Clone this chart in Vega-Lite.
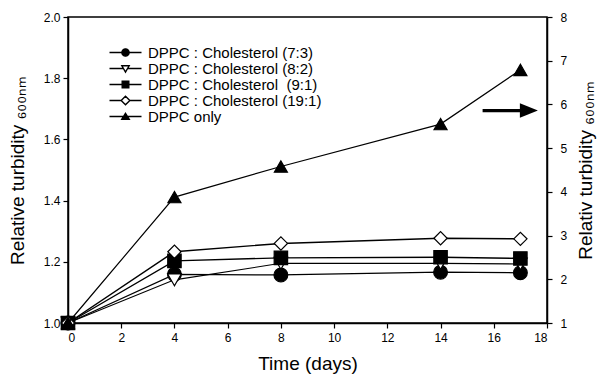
{
  "$schema": "https://vega.github.io/schema/vega-lite/v6.json",
  "width": 479,
  "height": 306,
  "autosize": {"type": "none"},
  "padding": {"left": 68, "top": 17, "right": 50, "bottom": 55},
  "background": "white",
  "config": {
    "font": "Liberation Sans",
    "view": {"stroke": "black", "strokeWidth": 1.5},
    "axis": {
      "domainColor": "black", "domainWidth": 1.5, "tickColor": "black", "tickWidth": 1.2, "tickSize": 5,
      "labelColor": "black", "labelFont": "Liberation Sans", "labelFontSize": 12,
      "titleFont": "Liberation Sans", "titleFontSize": 19, "titleFontWeight": "normal", "titleColor": "black",
      "grid": false
    },
    "legend": {
      "orient": "none", "legendX": 50, "legendY": 28, "padding": 0,
      "labelFont": "Liberation Sans", "labelFontSize": 15, "labelColor": "black", "labelLimit": 0,
      "symbolSize": 100, "labelOffset": 15, "rowPadding": -2
    }
  },
  "datasets": {
    "main": [
      {"day": 0, "turbidity": 1.0, "series": "DPPC : Cholesterol (7:3)"},
      {"day": 4, "turbidity": 1.159, "series": "DPPC : Cholesterol (7:3)"},
      {"day": 8, "turbidity": 1.157, "series": "DPPC : Cholesterol (7:3)"},
      {"day": 14, "turbidity": 1.166, "series": "DPPC : Cholesterol (7:3)"},
      {"day": 17, "turbidity": 1.164, "series": "DPPC : Cholesterol (7:3)"},
      {"day": 0, "turbidity": 1.0, "series": "DPPC : Cholesterol (8:2)"},
      {"day": 4, "turbidity": 1.141, "series": "DPPC : Cholesterol (8:2)"},
      {"day": 8, "turbidity": 1.195, "series": "DPPC : Cholesterol (8:2)"},
      {"day": 14, "turbidity": 1.195, "series": "DPPC : Cholesterol (8:2)"},
      {"day": 17, "turbidity": 1.193, "series": "DPPC : Cholesterol (8:2)"},
      {"day": 0, "turbidity": 1.0, "series": "DPPC : Cholesterol\u00a0 (9:1)"},
      {"day": 4, "turbidity": 1.203, "series": "DPPC : Cholesterol\u00a0 (9:1)"},
      {"day": 8, "turbidity": 1.213, "series": "DPPC : Cholesterol\u00a0 (9:1)"},
      {"day": 14, "turbidity": 1.215, "series": "DPPC : Cholesterol\u00a0 (9:1)"},
      {"day": 17, "turbidity": 1.211, "series": "DPPC : Cholesterol\u00a0 (9:1)"},
      {"day": 0, "turbidity": 1.0, "series": "DPPC : Cholesterol (19:1)"},
      {"day": 4, "turbidity": 1.233, "series": "DPPC : Cholesterol (19:1)"},
      {"day": 8, "turbidity": 1.26, "series": "DPPC : Cholesterol (19:1)"},
      {"day": 14, "turbidity": 1.277, "series": "DPPC : Cholesterol (19:1)"},
      {"day": 17, "turbidity": 1.275, "series": "DPPC : Cholesterol (19:1)"},
      {"day": 0, "turbidity": 1.0, "series": "DPPC only"},
      {"day": 4, "turbidity": 3.88, "series": "DPPC only"},
      {"day": 8, "turbidity": 4.58, "series": "DPPC only"},
      {"day": 14, "turbidity": 5.55, "series": "DPPC only"},
      {"day": 17, "turbidity": 6.79, "series": "DPPC only"}
    ],
    "arrow": [
      {"start": 15.58, "end": 17.0, "head": 17.32, "turbidity": 5.86}
    ]
  },
  "layer": [
    {
      "data": {"name": "main"},
      "transform": [{"filter": "datum.series !== 'DPPC only'"}],
      "encoding": {
        "x": {"field": "day", "type": "quantitative", "title": "Time (days)",
          "scale": {"domain": [0, 18], "nice": false, "zero": false},
          "axis": {"values": [0, 2, 4, 6, 8, 10, 12, 14, 16, 18], "format": "d", "labelPadding": 4, "titlePadding": 11}},
        "y": {"field": "turbidity", "type": "quantitative", "title": "Relative turbidity \u2086\u2080\u2080\u2099\u2098",
          "scale": {"domain": [1, 2], "nice": false, "zero": false},
          "axis": {"orient": "left", "values": [1, 1.2, 1.4, 1.6, 1.8, 2], "format": ".1f", "labelPadding": 3, "titlePadding": 16}}
      },
      "layer": [
        {
          "mark": {"type": "line", "color": "black"},
          "encoding": {
            "detail": {"field": "series", "type": "nominal"},
            "strokeWidth": {"field": "series", "type": "nominal", "legend": null,
              "scale": {"domain": ["DPPC : Cholesterol (8:2)", "DPPC : Cholesterol (7:3)", "DPPC : Cholesterol\u00a0 (9:1)", "DPPC : Cholesterol (19:1)", "DPPC only"],
                        "range": [1.1, 1.6, 2.0, 1.3, 1.2]}}
          }
        },
        {
          "mark": {"type": "point", "filled": true, "stroke": "black", "strokeWidth": 1.2, "opacity": 1},
          "encoding": {
            "shape": {"field": "series", "type": "nominal", "legend": null,
              "scale": {"domain": ["DPPC : Cholesterol (19:1)", "DPPC : Cholesterol (7:3)", "DPPC : Cholesterol (8:2)", "DPPC : Cholesterol\u00a0 (9:1)", "DPPC only"],
                        "range": ["diamond", "circle", "triangle-down", "square", "triangle-up"]}},
            "fill": {"field": "series", "type": "nominal",
              "scale": {"domain": ["DPPC : Cholesterol (7:3)", "DPPC : Cholesterol (8:2)", "DPPC : Cholesterol\u00a0 (9:1)", "DPPC : Cholesterol (19:1)", "DPPC only"],
                        "range": ["black", "white", "black", "white", "black"]},
              "legend": {"title": null, "orient": "none", "legendX": 50, "legendY": 28, "symbolOpacity": 1,
                "symbolSize": 100, "symbolStrokeColor": "black", "symbolStrokeWidth": 1.4,
                "symbolType": {"expr": "datum.value === 'DPPC : Cholesterol (7:3)' ? 'M-3.2,0H3.2M-0.73,0A0.73,0.73,0,1,1,0.73,0A0.73,0.73,0,1,1,-0.73,0Z' : datum.value === 'DPPC : Cholesterol (8:2)' ? 'M-3.2,0H-0.41M0.41,0H3.2M-0.73,-0.55H0.73L0,0.7Z' : datum.value === 'DPPC : Cholesterol (19:1)' ? 'M-3.2,0H-0.87M0.87,0H3.2M0,-0.87L0.87,0L0,0.87L-0.87,0Z' : datum.value === 'DPPC only' ? 'M-3.2,0H3.2M0,-0.62L0.75,0.55H-0.75Z' : 'M-3.2,0H3.2M-0.66,-0.66H0.66V0.66H-0.66Z'"}}},
            "size": {"field": "series", "type": "nominal", "legend": null,
              "scale": {"domain": ["DPPC only", "DPPC : Cholesterol (19:1)", "DPPC : Cholesterol\u00a0 (9:1)", "DPPC : Cholesterol (8:2)", "DPPC : Cholesterol (7:3)"],
                        "range": [170, 190, 100, 100, 130]}}
          }
        }
      ]
    },
    {
      "encoding": {
        "y": {"field": "turbidity", "type": "quantitative", "title": "Relativ turbidity \u2086\u2080\u2080\u2099\u2098",
          "scale": {"domain": [1, 8], "nice": false, "zero": false},
          "axis": {"orient": "right", "values": [1, 2, 3, 4, 5, 6, 7, 8], "format": "d", "labelPadding": 8, "titlePadding": 10, "titleAngle": 270, "titleBaseline": "top"}}
      },
      "layer": [
        {
          "data": {"name": "main"},
          "transform": [{"filter": "datum.series === 'DPPC only'"}],
          "mark": {"type": "line", "color": "black", "strokeWidth": 1.2},
          "encoding": {
            "x": {"field": "day", "type": "quantitative", "title": "Time (days)"}
          }
        },
        {
          "data": {"name": "main"},
          "transform": [{"filter": "datum.series === 'DPPC only'"}],
          "mark": {"type": "point", "filled": true, "stroke": "black", "strokeWidth": 1.2, "opacity": 1},
          "encoding": {
            "x": {"field": "day", "type": "quantitative", "title": "Time (days)"},
            "shape": {"field": "series", "type": "nominal", "legend": null},
            "fill": {"field": "series", "type": "nominal"},
            "size": {"field": "series", "type": "nominal", "legend": null}
          }
        },
        {
          "data": {"name": "arrow"},
          "mark": {"type": "rule", "color": "black", "strokeWidth": 3.2},
          "encoding": {
            "x": {"field": "start", "type": "quantitative", "title": "Time (days)"},
            "x2": {"field": "end"}
          }
        },
        {
          "data": {"name": "arrow"},
          "mark": {"type": "point", "shape": "M-1,-0.8L1,0L-1,0.8Z", "filled": true, "color": "black", "size": 324, "opacity": 1},
          "encoding": {
            "x": {"field": "head", "type": "quantitative", "title": "Time (days)"}
          }
        }
      ]
    }
  ],
  "resolve": {"scale": {"y": "independent"}, "axis": {"y": "independent"}}
}
